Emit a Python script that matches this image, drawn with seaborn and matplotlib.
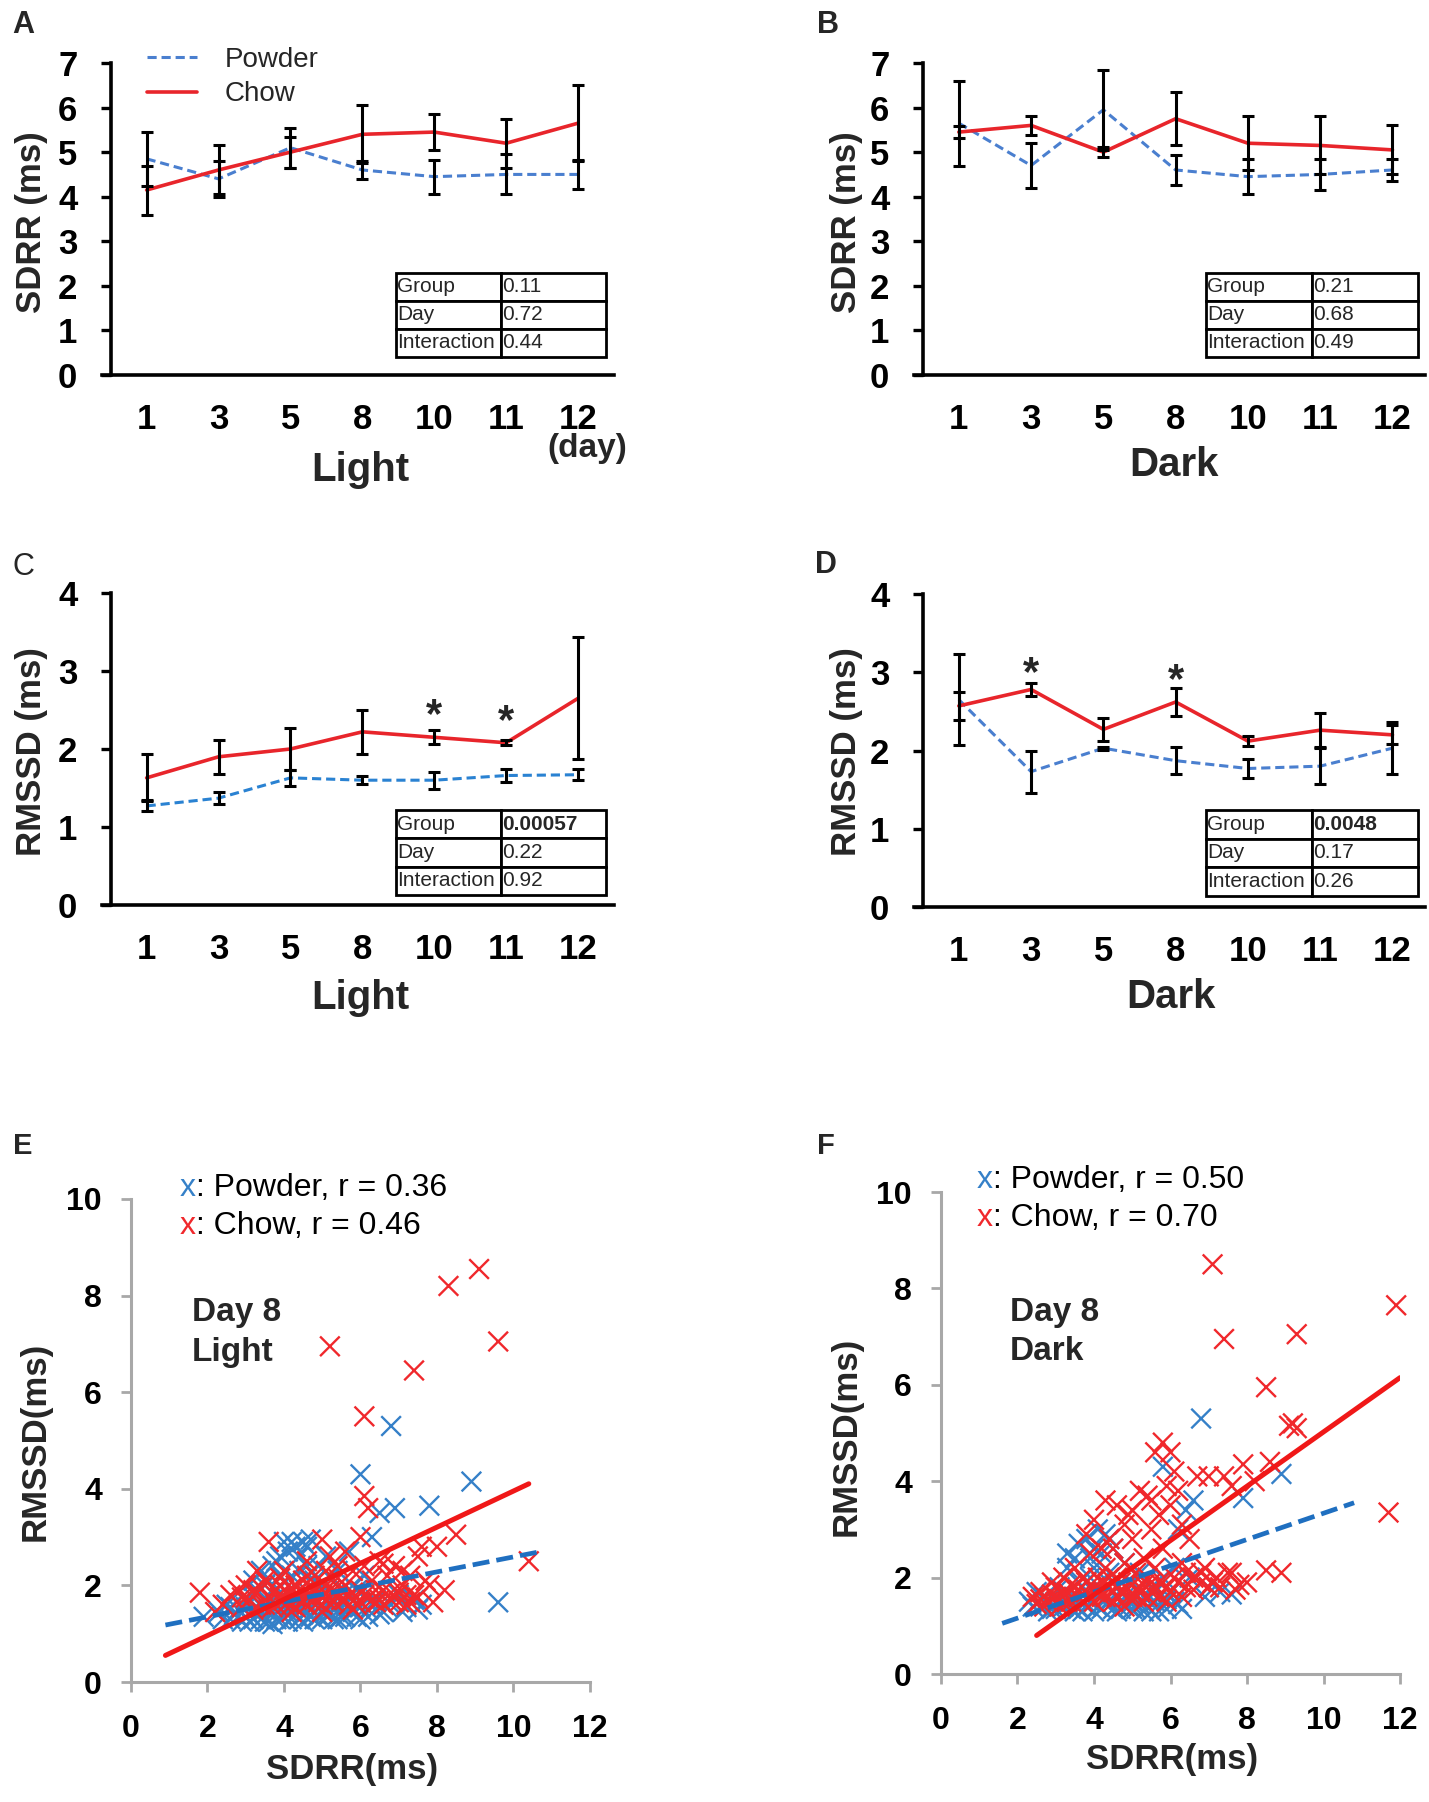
import numpy as np
import pandas as pd
import matplotlib
matplotlib.use("Agg")
import matplotlib.pyplot as plt
import seaborn as sns
from matplotlib.lines import Line2D

sns.set_theme(style="white")
plt.rcParams['font.family'] = ['Liberation Sans', 'DejaVu Sans']

W, H = 1429, 1802

# ---- data: panels A-D (mean, error) ----
days = ['1', '3', '5', '8', '10', '11', '12']

sdrr_light_powder = [4.85, 4.4, 5.1, 4.6, 4.45, 4.5, 4.5]
sdrr_light_powder_err = [0.6, 0.4, 0.45, 0.2, 0.38, 0.45, 0.32]
sdrr_light_chow = [4.15, 4.6, 5.0, 5.4, 5.45, 5.2, 5.65]
sdrr_light_chow_err = [0.55, 0.55, 0.35, 0.65, 0.4, 0.55, 0.85]

sdrr_dark_powder = [5.65, 4.7, 5.95, 4.6, 4.45, 4.5, 4.6]
sdrr_dark_powder_err = [0.95, 0.5, 0.9, 0.33, 0.4, 0.35, 0.25]
sdrr_dark_chow = [5.45, 5.6, 5.0, 5.75, 5.2, 5.15, 5.05]
sdrr_dark_chow_err = [0.13, 0.22, 0.12, 0.6, 0.6, 0.65, 0.55]

rmssd_light_powder = [1.27, 1.37, 1.63, 1.6, 1.6, 1.66, 1.67]
rmssd_light_powder_err = [0.07, 0.08, 0.1, 0.05, 0.11, 0.08, 0.07]
rmssd_light_chow = [1.63, 1.9, 2.0, 2.22, 2.15, 2.08, 2.65]
rmssd_light_chow_err = [0.3, 0.22, 0.27, 0.28, 0.09, 0.03, 0.78]

rmssd_dark_powder = [2.65, 1.73, 2.03, 1.87, 1.77, 1.8, 2.03]
rmssd_dark_powder_err = [0.58, 0.27, 0.02, 0.17, 0.12, 0.23, 0.33]
rmssd_dark_chow = [2.57, 2.78, 2.27, 2.62, 2.12, 2.26, 2.2]
rmssd_dark_chow_err = [0.18, 0.08, 0.15, 0.18, 0.06, 0.22, 0.12]

stat_rows = ['Group', 'Day', 'Interaction']
p_sdrr_light = ['0.11', '0.72', '0.44']
p_sdrr_dark = ['0.21', '0.68', '0.49']
p_rmssd_light = ['0.00057', '0.22', '0.92']
p_rmssd_dark = ['0.0048', '0.17', '0.26']

# significance stars: (day index, height)
stars_rmssd_light = [(4, 2.6), (5, 2.52)]
stars_rmssd_dark = [(1, 3.16), (3, 3.07)]

# ---- data: panels E-F (SDRR, RMSSD) ----
light_powder_pts = [
    (1.9, 1.35), (2.3, 1.45), (2.5, 1.6), (2.6, 1.3), (2.8, 1.5), (2.9, 1.25), (3.0, 1.7), (3.1, 1.4),
    (3.2, 1.3), (3.3, 1.9), (3.3, 1.55), (3.4, 2.3), (3.5, 1.25), (3.5, 1.75), (3.6, 2.1), (3.7, 1.45),
    (3.8, 1.3), (3.8, 2.5), (3.9, 1.65), (4.0, 2.9), (4.0, 1.35), (4.1, 2.7), (4.2, 1.5), (4.2, 2.2),
    (4.3, 2.8), (4.4, 1.3), (4.4, 1.9), (4.5, 2.9), (4.6, 1.45), (4.6, 2.4), (4.7, 2.95), (4.8, 1.6),
    (4.9, 1.35), (5.0, 2.0), (5.0, 1.5), (5.1, 2.6), (5.2, 1.4), (5.3, 1.8), (5.4, 2.3), (5.5, 1.35),
    (5.6, 1.6), (5.7, 2.7), (5.8, 1.45), (5.9, 1.9), (6.0, 1.3), (6.1, 2.2), (6.2, 1.5), (6.3, 3.0),
    (6.4, 1.7), (6.5, 3.5), (6.6, 1.45), (6.8, 1.6), (7.0, 1.8), (7.2, 1.55), (7.4, 1.7), (7.6, 1.6),
    (3.6, 1.5), (4.0, 1.8), (4.3, 1.6), (4.5, 1.4), (4.7, 1.75), (3.4, 1.6), (4.1, 1.25), (4.8, 2.1),
    (5.5, 1.9), (6.0, 4.3), (6.9, 3.6), (6.8, 5.3), (7.8, 3.65), (8.9, 4.15), (9.6, 1.65), (3.9, 2.6),
    (4.4, 2.6), (5.8, 2.0), (2.7, 1.4), (3.0, 1.35), (3.7, 1.2), (5.3, 1.3),
    (2.4, 1.3), (2.6, 1.55), (2.8, 1.35), (3.0, 1.55), (3.1, 1.25), (3.2, 1.75), (3.3, 1.4), (3.4, 1.3),
    (3.5, 1.5), (3.6, 1.25), (3.7, 1.7), (3.8, 1.55), (3.9, 1.3), (4.0, 1.6), (4.1, 1.45), (4.2, 1.3),
    (4.3, 1.4), (4.4, 1.55), (4.5, 1.25), (4.6, 1.65), (4.7, 1.35), (4.8, 1.3), (4.9, 1.55), (5.0, 1.3),
    (5.1, 1.45), (5.2, 1.6), (5.3, 1.5), (5.4, 1.3), (5.5, 1.55), (5.6, 1.35), (5.7, 1.5), (5.9, 1.35),
    (6.0, 1.55), (6.2, 1.35), (6.3, 1.6), (6.5, 1.4), (6.7, 1.55), (3.7, 2.4), (4.2, 2.9), (4.6, 2.8),
    (3.5, 2.0), (4.9, 2.4), (5.2, 2.2), (3.2, 2.1), (7.1, 1.45), (7.5, 1.5), (4.4, 2.3), (3.9, 2.2),
]
light_chow_pts = [
    (1.8, 1.85), (2.4, 1.6), (2.6, 1.8), (2.8, 1.9), (2.9, 1.55), (3.0, 2.0), (3.1, 1.7), (3.2, 1.5),
    (3.3, 1.85), (3.4, 1.6), (3.5, 2.1), (3.6, 2.9), (3.6, 1.75), (3.7, 1.55), (3.8, 1.9), (3.9, 2.0),
    (4.0, 1.7), (4.1, 1.85), (4.2, 1.6), (4.3, 2.0), (4.3, 1.75), (4.4, 1.9), (4.5, 1.65), (4.5, 2.1),
    (4.6, 1.8), (4.7, 1.95), (4.8, 2.2), (4.8, 1.7), (4.9, 1.85), (5.0, 2.95), (5.0, 1.6), (5.1, 2.0),
    (5.2, 1.75), (5.2, 2.6), (5.3, 1.9), (5.4, 2.4), (5.5, 1.7), (5.6, 2.0), (5.7, 1.8), (5.8, 2.3),
    (5.9, 1.6), (6.0, 3.0), (6.0, 1.9), (6.1, 3.85), (6.1, 5.5), (6.2, 3.6), (6.2, 1.75), (6.3, 2.1),
    (6.4, 1.65), (6.5, 2.5), (6.6, 1.9), (6.7, 2.2), (6.8, 1.7), (6.9, 2.4), (7.0, 1.85), (7.1, 2.0),
    (7.2, 1.6), (7.3, 2.2), (7.4, 1.8), (7.5, 2.6), (7.6, 2.8), (7.8, 2.0), (7.9, 1.65), (8.0, 2.8),
    (8.2, 1.9), (8.5, 3.05), (5.2, 6.95), (7.4, 6.45), (8.3, 8.2), (9.1, 8.55), (9.6, 7.05), (10.4, 2.5),
    (4.0, 2.3), (4.6, 2.5), (3.3, 2.3), (5.6, 2.7), (2.2, 1.45), (4.2, 1.45), (5.0, 1.45), (5.8, 1.5),
    (3.0, 1.75), (3.2, 1.9), (3.4, 1.95), (3.5, 1.6), (3.7, 1.85), (3.8, 1.6), (3.9, 1.75), (4.0, 1.9),
    (4.1, 1.65), (4.2, 1.95), (4.3, 1.55), (4.4, 1.75), (4.5, 1.85), (4.6, 1.6), (4.7, 1.8), (4.8, 1.9),
    (4.9, 1.65), (5.0, 1.8), (5.1, 1.7), (5.2, 1.9), (5.3, 1.65), (5.4, 1.8), (5.5, 1.9), (5.6, 1.7),
    (5.7, 1.6), (5.8, 1.85), (5.9, 1.75), (6.0, 1.65), (6.1, 1.8), (6.3, 1.7), (6.4, 1.9), (6.5, 1.7),
    (6.6, 1.6), (6.8, 1.85), (7.0, 1.65), (7.2, 1.8), (7.3, 1.65), (7.5, 1.75), (2.9, 1.75), (4.6, 2.2),
    (5.4, 2.15), (6.1, 2.4), (3.9, 2.15), (5.1, 2.3), (6.6, 2.45), (7.1, 2.3), (7.7, 2.1),
]
dark_powder_pts = [
    (2.3, 1.5), (2.5, 1.7), (2.6, 1.4), (2.8, 1.55), (2.9, 1.35), (3.0, 1.5), (3.1, 1.8), (3.2, 1.4),
    (3.3, 2.2), (3.4, 1.6), (3.5, 2.4), (3.5, 1.3), (3.6, 1.9), (3.7, 1.5), (3.8, 2.8), (3.8, 1.4),
    (3.9, 2.0), (4.0, 2.6), (4.0, 1.3), (4.1, 3.0), (4.2, 1.7), (4.2, 2.5), (4.3, 2.9), (4.3, 1.45),
    (4.4, 2.1), (4.5, 1.35), (4.5, 2.6), (4.6, 1.8), (4.7, 1.5), (4.8, 2.3), (4.9, 1.4), (5.0, 1.9),
    (5.1, 1.35), (5.2, 2.1), (5.3, 1.6), (5.4, 1.4), (5.5, 1.8), (5.6, 1.5), (5.7, 1.3), (5.8, 2.0),
    (5.9, 1.55), (6.0, 1.7), (6.1, 2.2), (6.2, 1.45), (6.4, 3.4), (6.5, 2.0), (6.6, 3.6), (6.8, 5.3),
    (7.0, 1.8), (7.3, 1.7), (7.6, 1.65), (7.9, 3.65), (8.9, 4.15), (5.8, 4.3), (6.2, 3.0), (3.2, 1.6),
    (3.6, 1.35), (4.6, 1.3), (5.0, 1.5), (5.5, 1.3),
    (2.4, 1.4), (2.7, 1.6), (2.8, 1.3), (3.0, 1.35), (3.1, 1.55), (3.3, 1.45), (3.4, 1.35), (3.5, 1.6),
    (3.7, 1.3), (3.9, 1.5), (4.0, 1.7), (4.1, 1.4), (4.2, 1.35), (4.4, 1.5), (4.5, 1.7), (4.7, 1.35),
    (4.8, 1.6), (5.0, 1.35), (5.2, 1.45), (5.3, 1.3), (5.6, 1.7), (5.9, 1.35), (6.1, 1.5), (3.6, 2.7),
    (4.0, 2.2), (4.4, 2.8), (3.3, 2.5), (3.9, 2.4), (6.9, 1.6), (6.3, 1.35),
]
dark_chow_pts = [
    (2.4, 1.6), (2.5, 1.45), (2.6, 1.7), (2.8, 1.5), (2.9, 1.9), (3.0, 1.6), (3.1, 1.4), (3.2, 2.0),
    (3.3, 1.7), (3.4, 1.5), (3.5, 2.2), (3.5, 1.8), (3.6, 1.6), (3.7, 2.0), (3.8, 1.7), (3.9, 2.5),
    (4.0, 3.2), (4.0, 1.8), (4.1, 2.0), (4.2, 1.6), (4.3, 3.6), (4.3, 2.2), (4.4, 1.8), (4.5, 2.6),
    (4.5, 1.5), (4.6, 3.5), (4.6, 2.0), (4.7, 1.7), (4.8, 2.3), (4.9, 1.9), (5.0, 2.8), (5.0, 1.6),
    (5.1, 2.1), (5.2, 3.8), (5.2, 1.8), (5.3, 2.4), (5.3, 1.5), (5.4, 2.0), (5.5, 3.0), (5.5, 1.7),
    (5.6, 4.6), (5.6, 2.2), (5.7, 1.9), (5.8, 4.8), (5.8, 2.6), (5.9, 1.8), (6.0, 4.6), (6.0, 3.5),
    (6.1, 2.0), (6.2, 3.8), (6.3, 2.3), (6.4, 1.8), (6.5, 2.8), (6.6, 2.0), (6.7, 4.1), (6.8, 1.9),
    (6.9, 2.2), (7.0, 1.8), (7.1, 8.5), (7.2, 2.0), (7.4, 6.95), (7.4, 4.1), (7.5, 2.1), (7.6, 3.9),
    (7.7, 1.75), (7.9, 4.35), (8.0, 1.9), (8.2, 4.0), (8.5, 5.95), (8.5, 2.15), (8.6, 4.4), (8.9, 2.1),
    (9.1, 5.15), (9.2, 5.2), (9.3, 5.1), (9.3, 7.05), (11.7, 3.35), (11.9, 7.65), (4.8, 1.4), (5.9, 1.5),
    (6.3, 1.6), (3.8, 2.9), (4.9, 3.3), (5.4, 3.7),
    (2.6, 1.55), (2.7, 1.4), (2.9, 1.65), (3.0, 1.8), (3.1, 1.55), (3.2, 1.7), (3.3, 1.5), (3.4, 1.85),
    (3.6, 1.75), (3.7, 1.5), (3.8, 1.9), (3.9, 1.6), (4.0, 1.5), (4.1, 1.7), (4.2, 1.9), (4.3, 1.6),
    (4.4, 2.0), (4.5, 1.7), (4.6, 1.6), (4.7, 1.9), (4.8, 1.7), (4.9, 1.6), (5.0, 1.85), (5.1, 1.6),
    (5.2, 1.7), (5.3, 1.85), (5.4, 1.6), (5.5, 1.9), (5.6, 1.75), (5.7, 1.6), (5.8, 1.9), (6.0, 1.7),
    (6.2, 1.9), (6.4, 2.1), (6.6, 1.75), (6.8, 2.1), (7.1, 1.9), (7.3, 1.8), (7.6, 2.1), (7.8, 1.85),
    (4.4, 2.8), (4.8, 3.1), (5.0, 3.4), (5.7, 3.3), (6.3, 3.1), (5.5, 3.6), (4.2, 2.6), (6.1, 4.2),
    (5.9, 3.9), (7.0, 4.1),
]

# regression lines: slope, intercept, x range
light_powder_fit = (0.155, 1.04, 0.9, 10.7)
light_chow_fit = (0.374, 0.214, 0.9, 10.4)
dark_powder_fit = (0.272, 0.615, 1.6, 10.8)
dark_chow_fit = (0.563, -0.608, 2.5, 12.0)

light_r = ['0.36', '0.46']
dark_r = ['0.50', '0.70']

RED = '#e8252b'
BLUE_LINE = '#4a7fcf'
BLUE_C = '#2a82d2'
SC_BLUE = '#3580c8'
SC_RED = '#f0282c'
GRAY = '#a8a8a8'
NARROW = ['Liberation Sans Narrow', 'Liberation Sans', 'DejaVu Sans']


def px(x, y):
    return x / W, 1 - y / H


fig = plt.figure(figsize=(W / 100, H / 100), dpi=100)


def line_panel(rect, xmax, powder, powder_err, chow, chow_err, ymax, pvals,
               tbl_box, blue, stars=None):
    ax = fig.add_axes(rect)
    n = len(days)
    df = pd.DataFrame({
        'pos': list(range(n)) * 2,
        'val': powder + chow,
        'grp': ['Powder'] * n + ['Chow'] * n,
    })
    sns.lineplot(data=df[df.grp == 'Powder'], x='pos', y='val', color=blue,
                 linewidth=2.2, ax=ax, legend=False)
    ax.lines[-1].set_dashes((3, 1.6))
    sns.lineplot(data=df[df.grp == 'Chow'], x='pos', y='val', color=RED,
                 linewidth=2.6, ax=ax, legend=False)
    ax.errorbar(range(n), powder, yerr=powder_err, fmt='none', ecolor='black',
                elinewidth=2.2, capsize=4.5, capthick=2.2, zorder=3)
    ax.errorbar(range(n), chow, yerr=chow_err, fmt='none', ecolor='black',
                elinewidth=2.2, capsize=4.5, capthick=2.2, zorder=3)

    ax.set_xlim(-0.62, xmax)
    ax.set_ylim(0, ymax)
    ax.spines['left'].set_position(('data', -0.5))
    for s in ['top', 'right']:
        ax.spines[s].set_visible(False)
    for s in ['left', 'bottom']:
        ax.spines[s].set_color('black')
        ax.spines[s].set_linewidth(2.6)
    ax.set_xticks(range(n))
    ax.set_xticklabels(days)
    ax.set_yticks(range(ymax + 1))
    ax.tick_params(axis='y', direction='out', length=7, width=2.4, pad=17,
                   labelsize=25, colors='black', left=True)
    ax.tick_params(axis='x', length=0, pad=20, labelsize=25, colors='black')
    plt.setp(ax.get_xticklabels() + ax.get_yticklabels(), fontweight='bold',
             family=NARROW)
    ax.set_xlabel('')
    ax.set_ylabel('')

    tbl = ax.table(cellText=[[r, v] for r, v in zip(stat_rows, pvals)],
                   cellLoc='left', colWidths=[0.5, 0.5], bbox=tbl_box)
    tbl.auto_set_font_size(False)
    tbl.set_fontsize(15)
    for cell in tbl.get_celld().values():
        cell.set_linewidth(2)
        cell.set_edgecolor('black')
        cell.PAD = 0.015
        cell.get_text().set_family(NARROW)
    if stars is not None:
        tbl[0, 1].get_text().set_fontweight('bold')
        for xi, yv in stars:
            ax.annotate('*', xy=(xi, yv), xytext=(0, -18), textcoords='offset points',
                        ha='center', va='baseline', fontsize=30, fontweight='bold')
    return ax


# A
axA = line_panel([0.0714, 1 - 375 / H, 512 / W, 312 / H], 6.5,
                 sdrr_light_powder, sdrr_light_powder_err,
                 sdrr_light_chow, sdrr_light_chow_err, 7, p_sdrr_light,
                 [0.574, 0.058, 0.41, 0.27], BLUE_LINE)
handles = [Line2D([], [], color=BLUE_LINE, lw=2.2, dashes=(3, 1.6)),
           Line2D([], [], color=RED, lw=2.6)]
axA.legend(handles, ['Powder', 'Chow'], loc='upper left',
           bbox_to_anchor=px(147, 47), bbox_transform=fig.transFigure,
           frameon=False, fontsize=20, handlelength=1.8, handletextpad=1.0,
           borderpad=0, borderaxespad=0, labelspacing=0.3)

# B
line_panel([914 / W, 1 - 375 / H, 511 / W, 312 / H], 6.45,
           sdrr_dark_powder, sdrr_dark_powder_err,
           sdrr_dark_chow, sdrr_dark_chow_err, 7, p_sdrr_dark,
           [0.571, 0.058, 0.415, 0.27], BLUE_LINE)

# C
line_panel([0.0714, 1 - 905 / H, 512 / W, 312 / H], 6.5,
           rmssd_light_powder, rmssd_light_powder_err,
           rmssd_light_chow, rmssd_light_chow_err, 4, p_rmssd_light,
           [0.574, 0.032, 0.41, 0.272], BLUE_C, stars_rmssd_light)

# D
line_panel([914 / W, 1 - 907 / H, 511 / W, 313 / H], 6.45,
           rmssd_dark_powder, rmssd_dark_powder_err,
           rmssd_dark_chow, rmssd_dark_chow_err, 4, p_rmssd_dark,
           [0.571, 0.036, 0.415, 0.274], BLUE_LINE, stars_rmssd_dark)


def scatter_panel(rect, powder_pts, chow_pts, powder_fit, chow_fit, rvals, xy_leg, xy_day, cond):
    ax = fig.add_axes(rect)
    df = pd.DataFrame(powder_pts + chow_pts, columns=['sdrr', 'rmssd'])
    df['grp'] = ['Powder'] * len(powder_pts) + ['Chow'] * len(chow_pts)
    sns.scatterplot(data=df, x='sdrr', y='rmssd', hue='grp',
                    palette={'Powder': SC_BLUE, 'Chow': SC_RED}, marker='x',
                    s=200, linewidth=1.7, legend=False, ax=ax, clip_on=False)
    fit_rows = []
    for grp, (m, b, x0, x1) in [('Powder', powder_fit), ('Chow', chow_fit)]:
        for xv in (x0, x1):
            fit_rows.append((grp, xv, m * xv + b))
    fit = pd.DataFrame(fit_rows, columns=['grp', 'x', 'y'])
    sns.lineplot(data=fit[fit.grp == 'Powder'], x='x', y='y', color='#1f6fc0',
                 linewidth=3.4, ax=ax, legend=False)
    ax.lines[-1].set_dashes((3.6, 1.5))
    sns.lineplot(data=fit[fit.grp == 'Chow'], x='x', y='y', color='#f01818',
                 linewidth=3.6, ax=ax, legend=False)

    ax.set_xlim(0, 12)
    ax.set_ylim(0, 10)
    ax.set_xticks(range(0, 13, 2))
    ax.set_yticks(range(0, 11, 2))
    for s in ['top', 'right']:
        ax.spines[s].set_visible(False)
    for s in ['left', 'bottom']:
        ax.spines[s].set_color(GRAY)
        ax.spines[s].set_linewidth(2.2)
    ax.tick_params(axis='both', direction='out', length=7, width=2, color=GRAY,
                   labelcolor='black', labelsize=23, left=True, bottom=True)
    ax.tick_params(axis='x', pad=16)
    ax.tick_params(axis='y', pad=14)
    plt.setp(ax.get_xticklabels() + ax.get_yticklabels(), fontweight='bold')
    ax.set_xlabel('')
    ax.set_ylabel('')

    (lx, ly) = xy_leg
    for i, (name, col) in enumerate([('Powder', SC_BLUE), ('Chow', SC_RED)]):
        t = fig.text(*px(lx, ly + i * 38), 'x', color=col, fontsize=23,
                     ha='left', va='center')
        ax.annotate(f': {name}, r = {rvals[i]}', xy=(1, 0), xycoords=t,
                    ha='left', va='bottom', fontsize=23, color='black')
    dx, dy = xy_day
    fig.text(*px(dx, dy), 'Day 8', fontsize=24, fontweight='bold', ha='left', va='center')
    fig.text(*px(dx, dy + 40), cond, fontsize=24, fontweight='bold', ha='left', va='center')
    return ax


scatter_panel([131 / W, 1 - 1682 / H, 459 / W, 483 / H],
              light_powder_pts, light_chow_pts, light_powder_fit, light_chow_fit,
              light_r, (180, 1188), (192, 1312), 'Light')
scatter_panel([941 / W, 1 - 1674 / H, 459 / W, 482 / H],
              dark_powder_pts, dark_chow_pts, dark_powder_fit, dark_chow_fit,
              dark_r, (977, 1180), (1010, 1312), 'Dark')

# panel letters
fig.text(*px(23, 25), 'A', fontsize=22, fontweight='bold', ha='center', va='center')
fig.text(*px(828, 25), 'B', fontsize=22, fontweight='bold', ha='center', va='center')
fig.text(*px(23, 567), 'C', fontsize=22, ha='center', va='center')
fig.text(*px(826, 565), 'D', fontsize=22, fontweight='bold', ha='center', va='center')
fig.text(*px(23, 1146), 'E', fontsize=21, fontweight='bold', ha='center', va='center')
fig.text(*px(826, 1146), 'F', fontsize=21, fontweight='bold', ha='center', va='center')

# axis titles
fig.text(*px(32, 222), 'SDRR (ms)', fontsize=25, fontweight='bold', rotation=90, ha='center', va='center')
fig.text(*px(846, 222), 'SDRR (ms)', fontsize=25, fontweight='bold', rotation=90, ha='center', va='center')
fig.text(*px(32, 752), 'RMSSD (ms)', fontsize=25, fontweight='bold', rotation=90, ha='center', va='center')
fig.text(*px(846, 752), 'RMSSD (ms)', fontsize=25, fontweight='bold', rotation=90, ha='center', va='center')
fig.text(*px(360, 470), 'Light', fontsize=29, fontweight='bold', ha='center', va='center')
fig.text(*px(587, 448), '(day)', fontsize=24, fontweight='bold', ha='center', va='center', family=NARROW)
fig.text(*px(1174, 465), 'Dark', fontsize=29, fontweight='bold', ha='center', va='center')
fig.text(*px(360, 998), 'Light', fontsize=29, fontweight='bold', ha='center', va='center')
fig.text(*px(1171, 997), 'Dark', fontsize=29, fontweight='bold', ha='center', va='center')
fig.text(*px(35, 1441), 'RMSSD(ms)', fontsize=25, fontweight='bold', rotation=90, ha='center', va='center')
fig.text(*px(846, 1436), 'RMSSD(ms)', fontsize=25, fontweight='bold', rotation=90, ha='center', va='center')
fig.text(*px(352, 1770), 'SDRR(ms)', fontsize=25, fontweight='bold', ha='center', va='center')
fig.text(*px(1172, 1760), 'SDRR(ms)', fontsize=25, fontweight='bold', ha='center', va='center')

fig.savefig('out.png', dpi=100, facecolor='white')
